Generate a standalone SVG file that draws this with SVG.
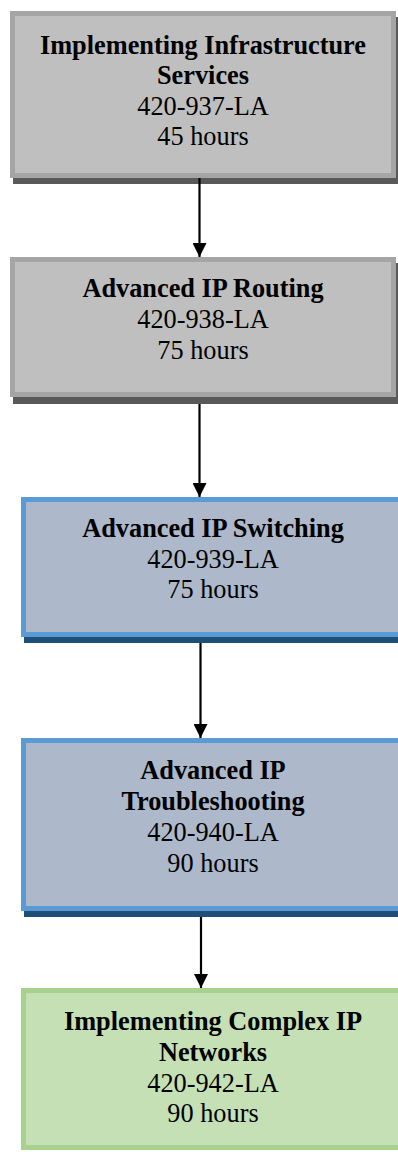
<svg xmlns="http://www.w3.org/2000/svg" width="398" height="1152" viewBox="0 0 398 1152">
<style>
text{font-family:"Liberation Serif","Times New Roman",serif;font-size:26.3px;fill:#000;text-anchor:middle}
.b{font-weight:bold}
.grayS{fill:#595959}
.gray{fill:#bfbfbf;stroke:#a5a5a5;stroke-width:5}
.blueS{fill:#1f4e79}
.blue{fill:#adb9ca;stroke:#5b9bd5;stroke-width:5}
.green{fill:#c5e0b4;stroke:#a9d18e;stroke-width:5}
.conn line{stroke:#000;stroke-width:2.2;marker-end:url(#ah)}
</style>
<defs>
<marker id="ah" markerUnits="userSpaceOnUse" markerWidth="14" markerHeight="14" refX="14" refY="7" orient="auto">
<path d="M0,0 L14,7 L0,14 z" fill="#000"/>
</marker>
</defs>
<rect width="398" height="1152" fill="#fff"/>
<g id="n1">
<rect class="grayS" x="13" y="17" width="386" height="167"/>
<rect class="gray" x="12.5" y="13.5" width="381" height="162"/>
<text class="b" x="203" y="54">Implementing Infrastructure</text>
<text class="b" x="203" y="84">Services</text>
<text x="203" y="114.5">420-937-LA</text>
<text x="203" y="145">45 hours</text>
</g>
<g id="n2">
<rect class="grayS" x="13" y="263" width="386" height="141"/>
<rect class="gray" x="12.5" y="259.5" width="381" height="135"/>
<text class="b" x="203" y="297">Advanced IP Routing</text>
<text x="203" y="328">420-938-LA</text>
<text x="203" y="359">75 hours</text>
</g>
<g id="n3">
<rect class="blueS" x="24" y="503" width="384" height="140"/>
<rect class="blue" x="23.5" y="499.5" width="379" height="135"/>
<text class="b" x="213" y="537">Advanced IP Switching</text>
<text x="213" y="567.5">420-939-LA</text>
<text x="213" y="598">75 hours</text>
</g>
<g id="n4">
<rect class="blueS" x="24" y="744" width="384" height="173"/>
<rect class="blue" x="23.5" y="740.5" width="379" height="168"/>
<text class="b" x="213" y="779">Advanced IP</text>
<text class="b" x="213" y="810">Troubleshooting</text>
<text x="213" y="841">420-940-LA</text>
<text x="213" y="872">90 hours</text>
</g>
<g id="n5">
<rect class="green" x="23.5" y="990.5" width="379" height="157"/>
<text class="b" x="213" y="1030">Implementing Complex IP</text>
<text class="b" x="213" y="1060.5">Networks</text>
<text x="213" y="1091.5">420-942-LA</text>
<text x="213" y="1122">90 hours</text>
</g>
<g id="connectors" class="conn">
<line x1="199.5" y1="178" x2="199.5" y2="257"/>
<line x1="199.5" y1="404" x2="199.5" y2="497"/>
<line x1="200.5" y1="643" x2="200.5" y2="738"/>
<line x1="201" y1="917" x2="201" y2="988"/>
</g>
</svg>
